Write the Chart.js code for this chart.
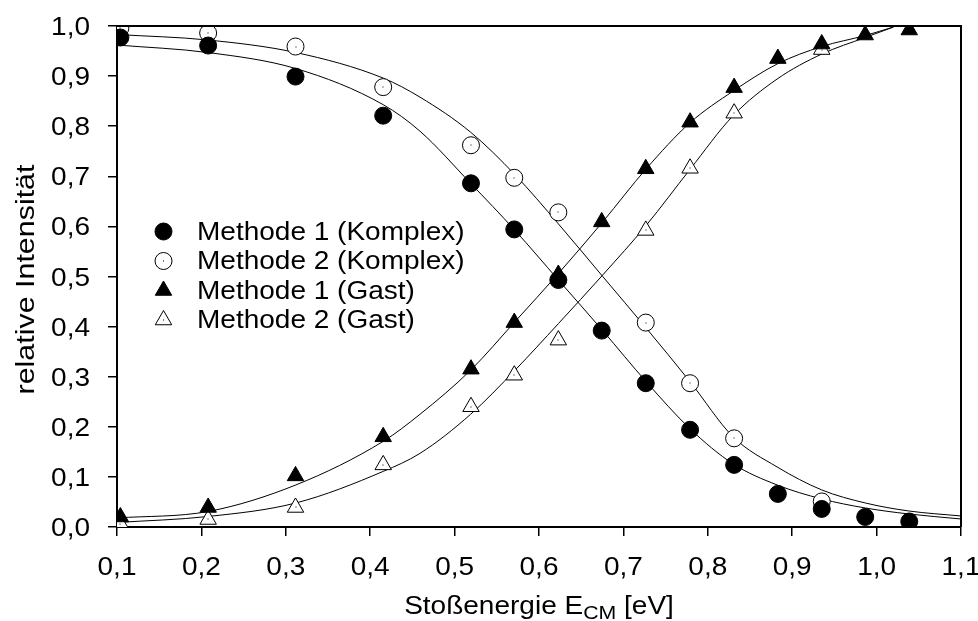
<!DOCTYPE html>
<html>
<head>
<meta charset="utf-8">
<script src="https://cdn.jsdelivr.net/npm/chart.js@4"></script>
<style>
  html, body { margin: 0; padding: 0; background: #fff; }
</style>
</head>
<body>
<canvas id="c" width="978" height="621"></canvas>
<script>
// tick labels
var xTicks = [0.1, 0.2, 0.3, 0.4, 0.5, 0.6, 0.7, 0.8, 0.9, 1.0, 1.1];
var yTicks = [0.0, 0.1, 0.2, 0.3, 0.4, 0.5, 0.6, 0.7, 0.8, 0.9, 1.0];

// measured points
var eAll = [0.104, 0.208, 0.3115, 0.4154, 0.5194, 0.5707, 0.6229, 0.6743, 0.7265, 0.779, 0.8312, 0.883, 0.935, 0.9865, 1.0387];
var eM2  = [0.104, 0.208, 0.3115, 0.4154, 0.5194, 0.5707, 0.6229, 0.7265, 0.779, 0.8312, 0.935];
var m1Komplex = [0.977, 0.961, 0.899, 0.821, 0.686, 0.594, 0.493, 0.392, 0.287, 0.194, 0.124, 0.066, 0.036, 0.020, 0.011];
var m2Komplex = [0.996, 0.986, 0.959, 0.878, 0.762, 0.697, 0.628, 0.408, 0.287, 0.177, 0.051];
var m1Gast    = [0.020, 0.039, 0.102, 0.180, 0.315, 0.408, 0.504, 0.609, 0.715, 0.808, 0.877, 0.935, 0.964, 0.982, 0.992];
var m2Gast    = [0.006, 0.015, 0.039, 0.124, 0.240, 0.303, 0.373, 0.592, 0.716, 0.826, 0.953];

// fitted curves
var fitXK = [0.1, 0.208, 0.312, 0.4154, 0.459, 0.519, 0.5716, 0.623, 0.6755, 0.727, 0.779, 0.830, 0.882, 0.935, 0.9865, 1.038, 1.1];
var fitA  = [0.962, 0.947, 0.915, 0.843, 0.790, 0.686, 0.592, 0.493, 0.392, 0.290, 0.196, 0.126, 0.084, 0.056, 0.038, 0.026, 0.016];
var fitB  = [0.983, 0.972, 0.947, 0.896, 0.858, 0.788, 0.703, 0.605, 0.500, 0.397, 0.290, 0.180, 0.120, 0.074, 0.048, 0.032, 0.022];
var fitXG = [0.1, 0.208, 0.312, 0.4154, 0.459, 0.519, 0.5716, 0.623, 0.6755, 0.727, 0.779, 0.830, 0.882, 0.935, 0.9865, 1.02];
var fitC  = [0.018, 0.031, 0.084, 0.171, 0.225, 0.313, 0.410, 0.506, 0.609, 0.715, 0.807, 0.870, 0.924, 0.959, 0.981, 0.998];
var fitD  = [0.009, 0.021, 0.048, 0.111, 0.147, 0.225, 0.313, 0.406, 0.503, 0.602, 0.714, 0.821, 0.894, 0.944, 0.977, 0.998];

var labels = ['Methode 1 (Komplex)', 'Methode 2 (Komplex)', 'Methode 1 (Gast)', 'Methode 2 (Gast)'];

var FONT = '"Liberation Sans", Arial, sans-serif';

function pts(xs, ys) {
  return ys.map(function(y, i) { return { x: xs[i], y: y }; });
}

// Arial-like text, a bit wider than Liberation Sans renders it
function wideText(ctx, s, x, y, align, size, sx, rot) {
  ctx.save();
  ctx.translate(x, y);
  if (rot) ctx.rotate(rot);
  ctx.scale(sx, 1);
  ctx.font = size + 'px ' + FONT;
  ctx.textAlign = align;
  ctx.textBaseline = 'alphabetic';
  ctx.fillStyle = '#000';
  ctx.fillText(s, 0, 0);
  ctx.restore();
}

function textW(ctx, s, size, sx) {
  ctx.save();
  ctx.font = size + 'px ' + FONT;
  var w = ctx.measureText(s).width * sx;
  ctx.restore();
  return w;
}

function marker(ctx, style, filled, x, y, r) {
  ctx.save();
  ctx.beginPath();
  if (style === 'circle') {
    ctx.arc(x, y, r, 0, Math.PI * 2);
  } else {
    ctx.moveTo(x, y - r);
    ctx.lineTo(x + r * 0.866, y + r / 2);
    ctx.lineTo(x - r * 0.866, y + r / 2);
    ctx.closePath();
  }
  ctx.fillStyle = filled ? '#000' : '#fff';
  ctx.fill();
  ctx.lineWidth = 1;
  ctx.strokeStyle = '#000';
  ctx.stroke();
  if (!filled) { ctx.fillStyle = '#000'; ctx.fillRect(x - 0.5, y - 0.5, 1, 1); }
  ctx.restore();
}

var textPlugin = {
  id: 'texts',
  afterDraw: function(chart) {
    var ctx = chart.ctx, a = chart.chartArea;
    var xs = chart.scales.x, ys = chart.scales.y;

    // frame top/right
    ctx.save();
    ctx.strokeStyle = '#000';
    ctx.lineWidth = 2;
    ctx.beginPath();
    ctx.moveTo(a.left, a.top);
    ctx.lineTo(a.right, a.top);
    ctx.lineTo(a.right, a.bottom);
    ctx.stroke();
    ctx.restore();

    // tick labels
    yTicks.forEach(function(v) {
      wideText(ctx, v.toFixed(1).replace('.', ','), 90, ys.getPixelForValue(v) + 9, 'right', 25, 1.12);
    });
    xTicks.forEach(function(v) {
      wideText(ctx, v.toFixed(1).replace('.', ','), xs.getPixelForValue(v), 575, 'center', 25, 1.12);
    });

    // axis titles
    wideText(ctx, 'relative Intensität', 34, (a.top + a.bottom) / 2 + 3, 'center', 26, 1.17, -Math.PI / 2);
    var p1 = 'Stoßenergie E', p2 = 'CM', p3 = ' [eV]';
    var w1 = textW(ctx, p1, 25, 1.12), w2 = textW(ctx, p2, 19, 1.12), w3 = textW(ctx, p3, 25, 1.12);
    var x0 = (a.left + a.right) / 2 - (w1 + w2 + w3) / 2;
    wideText(ctx, p1, x0, 614, 'left', 25, 1.12);
    wideText(ctx, p2, x0 + w1, 619, 'left', 19, 1.12);
    wideText(ctx, p3, x0 + w1 + w2, 614, 'left', 25, 1.12);

    // legend
    var styles = [['circle', true], ['circle', false], ['triangle', true], ['triangle', false]];
    labels.forEach(function(l, i) {
      var y = 231.5 + i * 29.5;
      marker(ctx, styles[i][0], styles[i][1], 163.5, y, styles[i][0] === 'circle' ? 8.5 : 9.5);
      wideText(ctx, l, 197, y + 8, 'left', 25, 1.12);
    });
  }
};

var dotPlugin = {
  id: 'dots',
  afterDatasetsDraw: function(chart) {
    var ctx = chart.ctx;
    [1, 3].forEach(function(di) {
      chart.getDatasetMeta(di).data.forEach(function(p) {
        ctx.fillStyle = '#000';
        ctx.fillRect(Math.round(p.x) - 0.5, Math.round(p.y) - 0.5, 1, 1);
      });
    });
  }
};

function fitSet(xs, ys) {
  return {
    data: pts(xs, ys), showLine: true, pointRadius: 0, borderColor: '#000', borderWidth: 1,
    cubicInterpolationMode: 'monotone', fill: false
  };
}

function axisGrid() {
  return { drawOnChartArea: false, drawTicks: true, tickLength: 9, color: '#000', lineWidth: 1.5 };
}

new Chart(document.getElementById('c'), {
  type: 'scatter',
  data: {
    datasets: [
      { label: labels[2], data: pts(eAll, m1Gast), pointStyle: 'triangle', pointRadius: 9.5,
        backgroundColor: '#000', borderColor: '#000', borderWidth: 1 },
      { label: labels[3], data: pts(eM2, m2Gast), pointStyle: 'triangle', pointRadius: 9.5,
        backgroundColor: '#fff', borderColor: '#000', borderWidth: 1 },
      { label: labels[0], data: pts(eAll, m1Komplex), pointStyle: 'circle', pointRadius: 8.5,
        backgroundColor: '#000', borderColor: '#000', borderWidth: 1 },
      { label: labels[1], data: pts(eM2, m2Komplex), pointStyle: 'circle', pointRadius: 8.5,
        backgroundColor: '#fff', borderColor: '#000', borderWidth: 1 },
      fitSet(fitXK, fitA),
      fitSet(fitXK, fitB),
      fitSet(fitXG, fitC),
      fitSet(fitXG, fitD)
    ]
  },
  options: {
    responsive: false,
    animation: false,
    events: [],
    layout: { padding: { left: 0, right: 17, top: 26, bottom: 0 } },
    plugins: { legend: { display: false }, tooltip: { enabled: false } },
    scales: {
      x: {
        type: 'linear', min: 0.1, max: 1.1,
        afterBuildTicks: function(s) { s.ticks = xTicks.map(function(v) { return { value: v }; }); },
        afterFit: function(s) { s.height = 94; },
        ticks: { display: false },
        grid: axisGrid(),
        border: { color: '#000', width: 2 }
      },
      y: {
        type: 'linear', min: 0, max: 1,
        afterBuildTicks: function(s) { s.ticks = yTicks.map(function(v) { return { value: v }; }); },
        afterFit: function(s) { s.width = 117; },
        ticks: { display: false },
        grid: axisGrid(),
        border: { color: '#000', width: 2 }
      }
    }
  },
  plugins: [dotPlugin, textPlugin]
});
</script>
</body>
</html>
